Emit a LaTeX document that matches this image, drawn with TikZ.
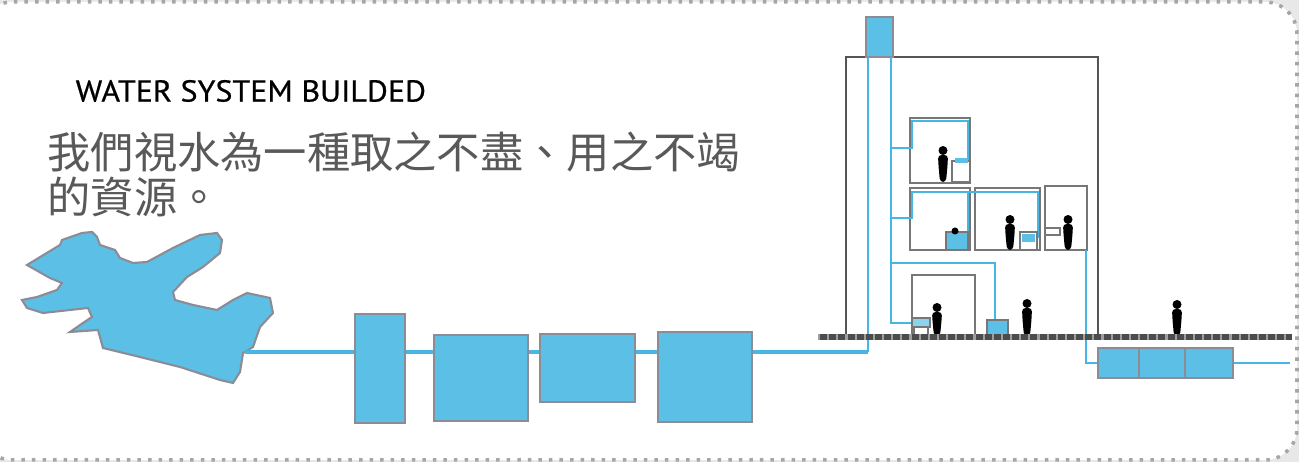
\documentclass[tikz,border=0pt]{standalone}
\usepackage{fontspec}
\setmainfont{PT Sans}
\newfontfamily\cjk{Noto Sans CJK TC}
\newfontfamily\titlefont[FakeBold=0.6]{PT Sans}
\usetikzlibrary{positioning}

\definecolor{waterblue}{RGB}{92,192,230}
\definecolor{pipeblue}{RGB}{70,182,228}
\definecolor{wallgray}{RGB}{85,85,85}
\definecolor{edgegray}{RGB}{140,140,150}

\tikzset{
  tank/.style={draw=edgegray, fill=waterblue, line width=0.7pt, inner sep=0pt},
  pipe/.style={pipeblue, line width=1.1pt},
  riser/.style={pipeblue, line width=0.8pt},
  wall/.style={wallgray, line width=0.7pt},
  room/.style={draw=wallgray!80, line width=0.6pt},
}

% silhouette: x, y of the feet, height
\newcommand{\personfig}[3]{%
  \fill[black] (#1,#2-#3+4.5) circle[radius=0.045cm];
  \fill[black, rounded corners=1pt] (#1-5,#2-#3+9) -- (#1+5,#2-#3+9)
    -- (#1+4.5,#2-#3*0.45) -- (#1+3,#2) -- (#1-3,#2) -- (#1-4.5,#2-#3*0.45) -- cycle;
}

\begin{document}
\begin{tikzpicture}[x=0.01cm, y=-0.01cm]
  \useasboundingbox (0,0) rectangle (1299,462);

  % frame
  \fill[gray!18] (0,0) rectangle (1299,462);
  \filldraw[fill=white, draw=gray!70, dotted, line width=1pt, rounded corners=0.32cm]
    (-20,2) rectangle (1297,460);

  % headings
  \node[anchor=west, inner sep=0pt] (title) at (75,91)
    {\titlefont\fontsize{8.6}{9}\selectfont\scalebox{1.06}[1]{WATER SYSTEM BUILDED}};
  \node[anchor=north west, inner sep=0pt, align=left, text=black!65,
        font=\cjk\fontsize{12.3}{13}\selectfont] (motto) at (47,131)
    {我們視水為一種取之不盡、用之不竭\\的資源。};

  % lake
  \filldraw[fill=waterblue, draw=edgegray, line width=0.6pt]
    (27,265) -- (60,245) -- (62,240) -- (82,233) -- (92,232) -- (97,237) -- (100,245)
    -- (115,250) -- (120,258) -- (133,263) -- (147,262) -- (173,248) -- (200,235)
    -- (217,233) -- (222,240) -- (220,253) -- (203,267) -- (187,277) -- (173,292)
    -- (175,300) -- (193,305) -- (217,310) -- (233,300) -- (247,293) -- (270,298)
    -- (273,313) -- (260,327) -- (253,347) -- (243,353) -- (240,372) -- (233,383)
    -- (220,380) -- (180,367) -- (140,357) -- (103,348) -- (98,330) -- (70,332)
    -- (83,323) -- (92,317) -- (88,308) -- (43,313) -- (27,308) -- (22,300)
    -- (37,297) -- (57,290) -- (62,283) -- (50,278) -- cycle;
  \coordinate (lakeout) at (245,352);

  % treatment tanks
  \node[tank, minimum width=0.50cm, minimum height=1.09cm] (intake) at (380,368.5) {};
  \node[tank, minimum width=0.94cm, minimum height=0.86cm] (settle) at (481,378) {};
  \node[tank, minimum width=0.95cm, minimum height=0.68cm] (filter) at (587.5,368) {};
  \node[tank, minimum width=0.94cm, minimum height=0.90cm] (store) at (705,377) {};

  \coordinate (riserfoot) at (868,352);
  \draw[pipe] (lakeout) -- (lakeout -| intake.west);
  \draw[pipe] (lakeout -| intake.east) -- (lakeout -| settle.west);
  \draw[pipe] (lakeout -| settle.east) -- (lakeout -| filter.west);
  \draw[pipe] (lakeout -| filter.east) -- (lakeout -| store.west);
  \draw[pipe] (lakeout -| store.east) -- (riserfoot);

  % building shell and roof tank
  \draw[wall] (846,337) -- (846,57) -- (1098,57) -- (1098,337);
  \filldraw[fill=waterblue, draw=edgegray, line width=0.6pt] (866,17) rectangle (893,57);

  % rooms
  \draw[room] (910,118) rectangle (970,183);
  \draw[room] (910,188) rectangle (970,250);
  \draw[room] (975,188) rectangle (1040,250);
  \draw[room] (1045,186) rectangle (1087,250);
  \draw[room] (912,337) -- (912,275) -- (975,275) -- (975,337);

  % risers and branches
  \draw[riser] (riserfoot) -- (868,57);
  \draw[riser] (891,57) -- (891,323) -- (913,323);
  \draw[riser] (891,148) -- (912,148) -- (912,121) -- (968,121) -- (968,160);
  \draw[riser] (891,218) -- (912,218) -- (912,192) -- (1038,192) -- (1038,238);
  \draw[riser] (968,192) -- (968,246);
  \draw[riser] (891,263) -- (995,263) -- (995,321);
  \draw[riser] (1086,250) -- (1086,363) -- (1290,363);

  % fittings
  \draw[room, fill=white] (952,161) rectangle (970,182);
  \fill[waterblue] (955,158) rectangle (968,163);
  \draw[room, fill=waterblue] (946,232) rectangle (968,250);
  \fill[black] (955,231) circle[radius=0.035cm];
  \draw[room, fill=white] (1020,232) rectangle (1037,250);
  \fill[waterblue] (1022,234) rectangle (1035,242);
  \draw[room, fill=white] (1045,228) rectangle (1060,235);
  \draw[room, fill=waterblue!70] (912,318) rectangle (930,327);
  \draw[room] (914,327) -- (914,336) (928,327) -- (928,336);
  \draw[room, fill=waterblue] (987,320) rectangle (1008,336);

  % people
  \personfig{943}{182}{36}
  \personfig{1010}{250}{35}
  \personfig{1068}{250}{35}
  \personfig{937}{336}{33}
  \personfig{1027}{336}{37}
  \personfig{1177}{336}{36}

  % ground
  \draw[line width=1.8pt, wallgray!90!black] (818,337) -- (1292,337);
  \draw[line width=1.8pt, gray!75, dash pattern=on 0.6pt off 2pt] (818,337) -- (1292,337);

  % underground reservoir
  \filldraw[fill=waterblue, draw=edgegray, line width=0.6pt] (1098,348) rectangle (1233,378);
  \draw[edgegray, line width=0.6pt] (1139,348) -- (1139,378) (1185,348) -- (1185,378);
\end{tikzpicture}
\end{document}
